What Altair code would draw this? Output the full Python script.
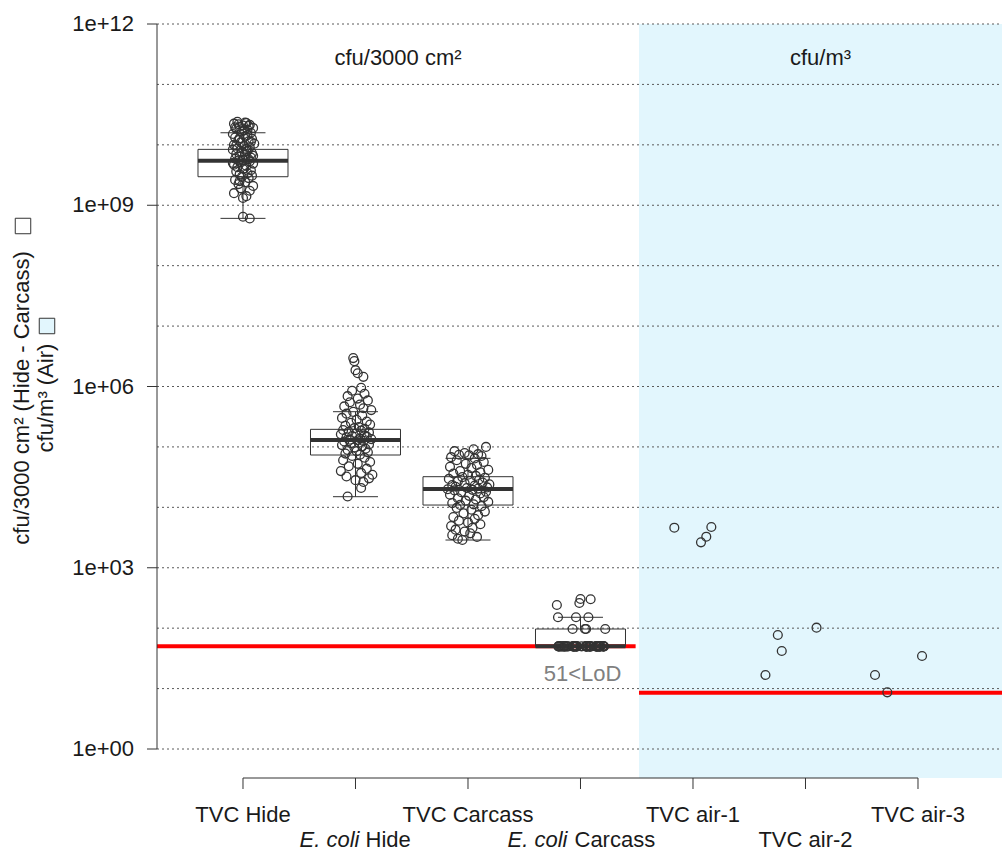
import altair as alt
import pandas as pd

FONT = "Liberation Sans"
INK = "#333333"
FS = 22

# ---------------- data ----------------
categories = ["TVC Hide", "E. coli Hide", "TVC Carcass", "E. coli Carcass",
              "TVC air-1", "TVC air-2", "TVC air-3"]
positions = [1, 2, 3, 4, 5, 6, 7]
label_row = [1, 2, 1, 2, 1, 2, 1]

# boxplot summaries (log10 cfu) for the four surface groups
box_pos = [1, 2, 3, 4]
box_lower = [8.783, 4.176, 3.459, 1.699]
box_q1 = [9.472, 4.866, 4.038, 1.699]
box_median = [9.737, 5.114, 4.303, 1.699]
box_q3 = [9.925, 5.291, 4.507, 1.986]
box_upper = [10.20, 5.583, 4.811, 2.180]

# individual samples, log10 cfu, with horizontal jitter (category units)
tvc_hide_log = [
    10.38, 10.36, 10.35, 10.33, 10.32, 10.30, 10.28, 10.27, 10.25, 10.22, 10.20, 10.18,
    10.14, 10.12, 10.10, 10.08, 10.06, 10.04, 10.02, 10.00, 9.98, 9.96, 9.94, 9.93,
    9.92, 9.90, 9.88, 9.86, 9.85, 9.83, 9.81, 9.79, 9.77, 9.76, 9.75, 9.74,
    9.73, 9.71, 9.69, 9.67, 9.65, 9.63, 9.61, 9.58, 9.56, 9.53, 9.51, 9.49, 9.47,
    9.45, 9.42, 9.38, 9.35, 9.32, 9.28, 9.24, 9.20, 9.15, 9.12,
    8.81, 8.78,
    10.37, 10.34, 10.31, 10.29, 10.24, 10.16, 10.11, 10.05, 9.99, 9.89, 9.82, 9.70, 9.60, 9.40]
tvc_hide_jit = [
    -0.05, 0.03, -0.08, 0.06, 0.00, -0.03, 0.09, -0.06, 0.04, -0.01, 0.07, -0.09,
    0.02, -0.07, 0.08, -0.04, 0.05, -0.02, 0.10, -0.08, 0.01, 0.06, -0.05, 0.03,
    -0.09, 0.04, -0.01, 0.08, -0.06, 0.02, -0.03, 0.07, -0.07, 0.05, 0.00, -0.04,
    0.06, -0.02, 0.09, -0.08, 0.03, -0.05, 0.01, 0.07, -0.06, 0.04, -0.03, 0.08, -0.01,
    0.05, -0.07, 0.02, -0.04, 0.09, -0.02, 0.06, -0.08, 0.03, 0.00,
    0.00, 0.06,
    0.02, -0.04, 0.05, -0.07, 0.01, 0.04, -0.03, 0.07, -0.06, 0.03, 0.09, -0.09, 0.00, -0.03]

ecoli_hide_log = [
    6.47, 6.42, 6.27, 6.22, 6.16,
    5.98, 5.93, 5.88, 5.84, 5.80, 5.77, 5.74, 5.70, 5.67, 5.64, 5.61, 5.58,
    5.55, 5.52, 5.48, 5.45, 5.42, 5.40, 5.37, 5.35, 5.33, 5.31, 5.30,
    5.28, 5.27, 5.25, 5.24, 5.22, 5.21, 5.19, 5.18, 5.17, 5.16, 5.14, 5.13, 5.12, 5.11,
    5.10, 5.09, 5.07, 5.06, 5.04, 5.03, 5.01, 4.99, 4.97, 4.95, 4.93, 4.91, 4.89, 4.87,
    4.85, 4.82, 4.78, 4.75, 4.72, 4.68, 4.64, 4.60, 4.57, 4.54, 4.51, 4.48, 4.45, 4.42,
    4.32, 4.18]
ecoli_hide_jit = [
    -0.02, -0.01, 0.00, 0.02, 0.07,
    0.05, -0.03, 0.08, -0.07, 0.02, 0.11, -0.05, 0.04, -0.10, 0.07, 0.14, -0.02,
    -0.08, 0.06, -0.12, 0.01, 0.10, -0.04, 0.13, -0.09, 0.03, -0.01, 0.08,
    -0.11, 0.05, -0.06, 0.12, 0.00, -0.13, 0.08, -0.03, 0.10, -0.08, 0.04, 0.14, -0.05, 0.02,
    0.07, -0.10, 0.03, -0.04, 0.12, -0.12, 0.06, -0.01, 0.09, -0.07, 0.01, 0.11, -0.09, 0.04,
    -0.03, 0.08, -0.11, 0.13, 0.02, -0.06, 0.10, -0.13, 0.05, 0.15, -0.08, 0.12, 0.00, 0.07,
    0.05, -0.07]

tvc_carcass_log = [
    5.00, 4.96, 4.93, 4.90, 4.88, 4.87, 4.86, 4.85, 4.83, 4.81,
    4.78, 4.75, 4.72, 4.70, 4.67, 4.65, 4.62, 4.60, 4.58, 4.56, 4.54, 4.52,
    4.50, 4.49, 4.47, 4.46, 4.44, 4.43, 4.41, 4.40, 4.38, 4.37, 4.36, 4.34, 4.33, 4.32, 4.31, 4.30,
    4.29, 4.28, 4.26, 4.25, 4.23, 4.21, 4.19, 4.17, 4.15, 4.13, 4.11, 4.09, 4.07, 4.05, 4.04,
    4.02, 3.99, 3.96, 3.93, 3.90, 3.87, 3.84, 3.81, 3.78, 3.75, 3.72, 3.69, 3.66, 3.63, 3.60,
    3.57, 3.54, 3.51, 3.48, 3.46]
tvc_carcass_jit = [
    0.16, 0.05, -0.12, -0.03, 0.09, -0.08, 0.01, 0.12, -0.15, 0.06,
    -0.10, 0.14, -0.02, 0.08, -0.16, 0.03, 0.18, -0.07, 0.11, -0.13, 0.00, 0.07,
    -0.05, 0.15, -0.17, 0.10, 0.02, -0.09, 0.13, -0.03, 0.19, -0.14, 0.06, -0.11, 0.17, -0.01, 0.09, -0.18,
    0.04, -0.12, 0.16, -0.06, 0.11, -0.16, 0.01, 0.14, -0.09, 0.07, -0.02, 0.18, -0.14, 0.05, -0.07,
    0.12, -0.10, 0.03, 0.15, -0.04, 0.09, -0.13, 0.06, -0.08, 0.00, 0.11, -0.15, 0.04, -0.11, -0.03,
    0.02, -0.14, 0.08, -0.09, -0.05]

ecoli_carcass_log = [1.986, 1.986, 1.986, 1.986, 2.18, 2.18, 2.18, 2.383, 2.416, 2.483, 2.478]
ecoli_carcass_jit = [-0.07, 0.04, 0.05, 0.22, -0.20, -0.04, 0.07, -0.21, -0.01, 0.00, 0.09]
ecoli_carcass_lod_n = 51
ecoli_carcass_lod_log = 1.699
ecoli_carcass_lod_jit = [
    -0.196, -0.142, -0.062, -0.036, 0.053, 0.080, 0.142, 0.169, 0.204,
    -0.196, -0.142, -0.062, -0.036, 0.053, 0.080, 0.142, 0.169, 0.204,
    -0.190, -0.130, -0.070, -0.030, 0.060, 0.090, 0.150, 0.160, 0.200,
    -0.180, -0.150, -0.055, -0.040, 0.045, 0.075, 0.135, 0.175, 0.210,
    -0.170, -0.120, -0.050, 0.050, 0.085, 0.145, 0.165,
    -0.160, -0.110, -0.060, 0.055, 0.095, 0.150, 0.180, 0.010]

air1_log = [3.663, 3.421, 3.514, 3.674]
air1_jit = [-0.166, 0.071, 0.118, 0.163]
air2_log = [1.225, 1.887, 1.622, 2.008]
air2_jit = [-0.356, -0.246, -0.211, 0.098]
air3_log = [1.225, 0.938, 1.539]
air3_jit = [-0.382, -0.273, 0.036]

lod_surface = 50      # cfu/3000 cm2
lod_air = 8.5         # cfu/m3
decades = list(range(0, 13))
label_decades = [0, 3, 6, 9, 12]

# ---------------- tables ----------------
X_DOM = [0.2356, 7.7467]
Y_DOM = [10 ** -0.48, 1e12]
SPLIT_L, SPLIT_R = 4.49, 4.52

groups = [
    (1, tvc_hide_log, tvc_hide_jit),
    (2, ecoli_hide_log, ecoli_hide_jit),
    (3, tvc_carcass_log, tvc_carcass_jit),
    (4, ecoli_carcass_log + [ecoli_carcass_lod_log] * ecoli_carcass_lod_n,
        ecoli_carcass_jit + ecoli_carcass_lod_jit),
    (5, air1_log, air1_jit),
    (6, air2_log, air2_jit),
    (7, air3_log, air3_jit),
]
rows = []
for pos, vals, jit in groups:
    n = min(len(vals), len(jit))
    for v, j in zip(vals[:n], jit[:n]):
        rows.append({"x": pos + j, "v": 10 ** v})
points = pd.DataFrame(rows)

boxes = pd.DataFrame({
    "pos": box_pos,
    "lo": [10 ** v for v in box_lower],
    "q1": [10 ** v for v in box_q1],
    "med": [10 ** v for v in box_median],
    "q3": [10 ** v for v in box_q3],
    "hi": [10 ** v for v in box_upper],
})
grid = pd.DataFrame({"v": [10 ** d for d in decades], "x0": X_DOM[0], "x1": X_DOM[1]})
ylabels = pd.DataFrame({"v": [10 ** d for d in label_decades],
                        "t": [f"1e+{d:02d}" for d in label_decades]})
lod = pd.DataFrame({"x0": [X_DOM[0], SPLIT_R], "x1": [SPLIT_L, X_DOM[1]],
                    "v": [lod_surface, lod_air]})
air_bg = pd.DataFrame({"x0": [SPLIT_R], "x1": [X_DOM[1]], "y0": [Y_DOM[0]], "y1": [Y_DOM[1]]})
cats = pd.DataFrame({"pos": positions, "name": categories, "row": label_row})
yline = pd.DataFrame({"x": [X_DOM[0]], "y0": [1.0], "y1": [1e12]})

XS = alt.Scale(domain=X_DOM, zero=False, nice=False)
YS = alt.Scale(type="log", domain=Y_DOM, nice=False)


def X(f):
    return alt.X(f, type="quantitative", scale=XS, axis=None)


def Y(f):
    return alt.Y(f, type="quantitative", scale=YS, axis=None)


TXT = dict(font=FONT, fontSize=FS, color="#1a1a1a")
ROW_Y = {1: 798, 2: 823}

bg = alt.Chart(air_bg).mark_rect(color="#E2F6FD").encode(
    x=X("x0"), x2="x1", y=Y("y1"), y2="y0")

gridlines = alt.Chart(grid).mark_rule(color="#5a5a5a", strokeDash=[2, 3], strokeWidth=1).encode(
    x=X("x0"), x2="x1", y=Y("v"))

redlines = alt.Chart(lod).mark_rule(color="#FF0000", strokeWidth=4).encode(
    x=X("x0"), x2="x1", y=Y("v"))

base_box = alt.Chart(boxes).transform_calculate(
    bl="datum.pos - 0.4", br="datum.pos + 0.4", cl="datum.pos - 0.2", cr="datum.pos + 0.2")

whisk_up = base_box.mark_rule(color=INK, strokeWidth=1).encode(x=X("pos"), y=Y("q3"), y2="hi")
whisk_lo = base_box.mark_rule(color=INK, strokeWidth=1).encode(x=X("pos"), y=Y("lo"), y2="q1")
cap_up = base_box.mark_rule(color=INK, strokeWidth=1).encode(x=X("cl"), x2="cr", y=Y("hi"))
cap_lo = base_box.mark_rule(color=INK, strokeWidth=1).encode(x=X("cl"), x2="cr", y=Y("lo"))
box = base_box.mark_rect(fillOpacity=0, stroke=INK, strokeWidth=1).encode(
    x=X("bl"), x2="br", y=Y("q1"), y2="q3")
median = base_box.mark_rule(color=INK, strokeWidth=4).encode(x=X("bl"), x2="br", y=Y("med"))

pts = alt.Chart(points).mark_point(shape="circle", filled=False, color=INK,
                                   size=78, strokeWidth=1.3, opacity=1).encode(
    x=X("x"), y=Y("v"))

# y axis (line, ticks, labels)
yline_l = alt.Chart(yline).mark_rule(color=INK, strokeWidth=1).encode(
    x=X("x"), y=Y("y0"), y2="y1")
yticks = alt.Chart(ylabels).mark_rule(color=INK, strokeWidth=1).encode(
    x=alt.value(-10), x2=alt.value(0), y=Y("v"))
ytxt = alt.Chart(ylabels).mark_text(align="right", baseline="middle", **TXT).encode(
    x=alt.value(-23), y=Y("v"), text="t:N")

# x axis (line, ticks, labels)
xline = alt.Chart(cats).mark_rule(color=INK, strokeWidth=1).transform_aggregate(
    lo="min(pos)", hi="max(pos)").encode(
    x=X("lo"), x2="hi", y=alt.value(754))
xticks = alt.Chart(cats).mark_rule(color=INK, strokeWidth=1).encode(
    x=X("pos"), y=alt.value(754), y2=alt.value(765))

plain = cats[~cats["name"].str.startswith("E. coli")]
lab1 = alt.Chart(plain[plain["row"] == 1]).mark_text(
    baseline="alphabetic", align="center", **TXT).encode(
    x=X("pos"), y=alt.value(ROW_Y[1]), text="name:N")
lab2 = alt.Chart(plain[plain["row"] == 2]).mark_text(
    baseline="alphabetic", align="center", **TXT).encode(
    x=X("pos"), y=alt.value(ROW_Y[2]), text="name:N")

eh = pd.DataFrame({"pos": [2], "it": ["E. coli"], "rest": ["Hide"]})
ec = pd.DataFrame({"pos": [4], "it": ["E. coli"], "rest": ["Carcass"]})
eh_it = alt.Chart(eh).mark_text(baseline="alphabetic", align="right", dx=4,
                                fontStyle="italic", **TXT).encode(
    x=X("pos"), y=alt.value(ROW_Y[2]), text="it:N")
eh_rest = alt.Chart(eh).mark_text(baseline="alphabetic", align="left", dx=10, **TXT).encode(
    x=X("pos"), y=alt.value(ROW_Y[2]), text="rest:N")
ec_it = alt.Chart(ec).mark_text(baseline="alphabetic", align="right", dx=-13,
                                fontStyle="italic", **TXT).encode(
    x=X("pos"), y=alt.value(ROW_Y[2]), text="it:N")
ec_rest = alt.Chart(ec).mark_text(baseline="alphabetic", align="left", dx=-6, **TXT).encode(
    x=X("pos"), y=alt.value(ROW_Y[2]), text="rest:N")

heads = pd.DataFrame({"x": [(X_DOM[0] + SPLIT_R) / 2, (SPLIT_R + X_DOM[1]) / 2],
                      "v": [10 ** 11.44, 10 ** 11.44],
                      "t": ["cfu/3000 cm²", "cfu/m³"]})
head_txt = alt.Chart(heads).mark_text(baseline="middle", align="center", **TXT).encode(
    x=X("x"), y=Y("v"), text="t:N")

lodlab = pd.DataFrame({"x": [4.018], "v": [10 ** 1.241], "t": [f"{ecoli_carcass_lod_n}<LoD"]})
lod_txt = alt.Chart(lodlab).mark_text(baseline="middle", align="center", font=FONT,
                                      fontSize=FS, color="#808080").encode(
    x=X("x"), y=Y("v"), text="t:N")

ytitle = pd.DataFrame({"t1": ["cfu/3000 cm² (Hide - Carcass)"], "t2": ["cfu/m³ (Air)"]})
yt1 = alt.Chart(ytitle).mark_text(angle=270, baseline="middle", align="center", **TXT).encode(
    x=alt.value(-135), y=alt.value(374), text="t1:N")
yt2 = alt.Chart(ytitle).mark_text(angle=270, baseline="middle", align="center", **TXT).encode(
    x=alt.value(-111), y=alt.value(374), text="t2:N")
sq1 = alt.Chart(ytitle).mark_square(size=240, fill="white", stroke=INK, strokeWidth=1,
                                    opacity=1).encode(x=alt.value(-134), y=alt.value(202))
sq2 = alt.Chart(ytitle).mark_square(size=240, fill="#E2F6FD", stroke=INK, strokeWidth=1,
                                    opacity=1).encode(x=alt.value(-110), y=alt.value(302))

chart = alt.layer(
    bg, gridlines, redlines, whisk_up, whisk_lo, cap_up, cap_lo, box, median, pts,
    yline_l, yticks, ytxt, xline, xticks, lab1, lab2, eh_it, eh_rest, ec_it, ec_rest,
    head_txt, lod_txt, yt1, yt2, sq1, sq2
).properties(
    width=845, height=754,
    padding={"left": 157, "top": 24, "right": 0, "bottom": 73},
    autosize=alt.AutoSizeParams(type="none"),
    background="white",
).configure_view(strokeWidth=0)

chart.save("out.html", embed_options={"renderer": "svg", "actions": False})
